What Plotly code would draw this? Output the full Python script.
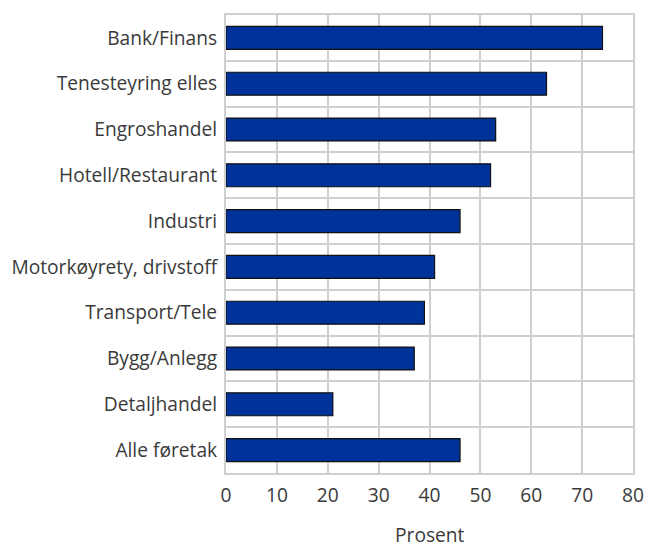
import plotly.graph_objects as go

categories = ["Bank/Finans", "Tenesteyring elles", "Engroshandel", "Hotell/Restaurant",
              "Industri", "Motorkøyrety, drivstoff", "Transport/Tele", "Bygg/Anlegg",
              "Detaljhandel", "Alle føretak"]
values = [74, 63, 53, 52, 46, 41, 39, 37, 21, 46]
x_ticks = [0, 10, 20, 30, 40, 50, 60, 70, 80]
x_title = "Prosent"

grid = "#cfcfcf"
font_col = "#3a3a3a"

fig = go.Figure(go.Bar(
    x=values, y=categories, orientation="h",
    marker=dict(color="#003399", line=dict(color="#111111", width=1.2)),
    width=0.5,
))

fig.update_layout(
    width=645, height=544,
    margin=dict(l=226, r=12, t=15, b=71),
    paper_bgcolor="white", plot_bgcolor="white",
    font=dict(family="Open Sans, Noto Sans, sans-serif", size=19.2, color=font_col),
    showlegend=False,
    xaxis=dict(
        range=[0, 80], tickvals=x_ticks, showgrid=True, gridcolor=grid, gridwidth=2,
        showline=True, linecolor=grid, linewidth=2, mirror=True, zeroline=False,
        ticks="", automargin=False, ticklabelstandoff=4,
        fixedrange=True,
    ),
    yaxis=dict(
        categoryorder="array", categoryarray=categories, autorange="reversed",
        tickson="boundaries", showgrid=True, gridcolor=grid, gridwidth=2,
        showline=True, linecolor=grid, linewidth=2, mirror=True,
        ticks="", automargin=False, ticklabelstandoff=3, fixedrange=True,
    ),
    annotations=[dict(
        text=x_title, xref="paper", yref="paper", x=0.5, y=0,
        xanchor="center", yanchor="top", yshift=-46, showarrow=False,
        font=dict(size=19.2, color=font_col),
    )],
)

fig.write_html("out.html", config={"displayModeBar": False},
               post_script="document.body.style.margin='0';document.body.style.padding='0';")
